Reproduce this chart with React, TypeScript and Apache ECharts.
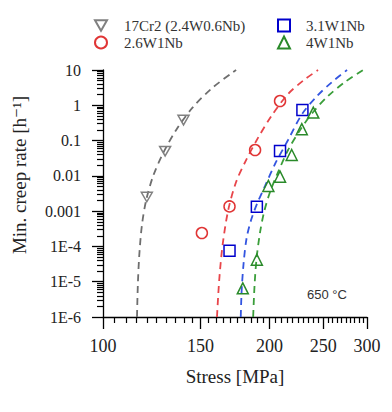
import React, { useEffect, useRef } from 'react';
import * as echarts from 'echarts';

// Grades (legend order as drawn)
const gradeNames = ['17Cr2 (2.4W0.6Nb)', '2.6W1Nb', '3.1W1Nb', '4W1Nb'];

// Axis ticks
const xTickValues = [100, 150, 200, 250, 300];
const yTickLabels = ['1E-6', '1E-5', '1E-4', '0.001', '0.01', '0.1', '1', '10'];

// Measured points: stress [MPa], min. creep rate [1/h]
const cr17Stress = [120.0, 129.5, 139.8];
const cr17Rate = [0.0025, 0.05, 0.38];
const w26Stress = [150.9, 169.3, 188.3, 208.9];
const w26Rate = [2.4e-4, 1.36e-3, 0.054, 1.32];
const w31Stress = [169.3, 189.7, 208.9, 229.3];
const w31Rate = [7.5e-5, 1.34e-3, 0.051, 0.74];
const w4Stress = [178.9, 189.7, 199.0, 208.9, 219.3, 228.7, 239.9];
const w4Rate = [6.5e-6, 4.2e-5, 5.2e-3, 9.5e-3, 0.039, 0.21, 0.62];

// Fitted (dashed) curves
const cr17FitStress = [115.2, 115.6, 116.3, 117.6, 119.7, 123.2, 128.5, 135.6, 145.0, 157.5, 174.0];
const cr17FitRate = [1e-6, 8.1e-6, 5.7e-5, 4.06e-4, 2.07e-3, 9.9e-3, 0.0446, 0.2, 0.84, 3.09, 10];
const w26FitStress = [160.7, 162.2, 164.5, 168.4, 174.0, 181.4, 190.6, 202.1, 216.0, 230.8, 244.7];
const w26FitRate = [1e-6, 1.12e-5, 1.1e-4, 1.08e-3, 6.7e-3, 0.028, 0.119, 0.531, 2.09, 5.2, 10];
const w31FitStress = [177.4, 178.1, 179.6, 181.8, 185.2, 189.8, 196.3, 204.6, 216.0, 229.0, 243.7, 259.4, 276.1];
const w31FitRate = [1e-6, 5.9e-6, 3.64e-5, 1.74e-4, 5.6e-4, 1.6e-3, 5.2e-3, 0.0217, 0.104, 0.567, 1.83, 4.57, 10];
const w4FitStress = [186.8, 187.9, 189.5, 192.3, 195.5, 200.4, 207.3, 216.0, 227.1, 239.8, 255.1, 273.8, 295.1];
const w4FitRate = [1e-6, 8.1e-6, 4.7e-5, 2.58e-4, 9.5e-4, 3.5e-3, 0.0129, 0.054, 0.2, 0.645, 1.83, 4.57, 10];

const pts = (xs: number[], ys: number[]) => xs.map((x, i) => [Math.log10(x), Math.log10(ys[i])]);

const SERIF = '"Times New Roman", "Liberation Serif", "DejaVu Serif", serif';
const SANS = 'Arial, "Liberation Sans", sans-serif';

const colors = {
  gray: '#808080', grayLine: '#6e6e6e',
  red: '#e03535', redLine: '#e8454a',
  blue: '#0000cc', blueLine: '#3355e0',
  green: '#2a8a2a', greenLine: '#3a9e3a',
};

const downTri = 'path://M0,0L10,0L5,8.66Z';

export default function App() {
  const ref = useRef<HTMLDivElement>(null);
  useEffect(() => {
    if (!ref.current) return;
    const chart = echarts.init(ref.current, undefined, { renderer: 'svg' });

    const xMinor: number[] = [];
    for (let v = 105; v < 300; v += 5) if (v % 50 !== 0) xMinor.push(Math.log10(v));
    const yMinor: number[] = [];
    for (let n = -6; n < 1; n++) for (let k = 2; k <= 9; k++) yMinor.push(Math.log10(k * Math.pow(10, n)));

    const axisLine = { show: true, onZero: false, lineStyle: { color: '#000', width: 1.3 } };
    const hiddenLine = { show: false, onZero: false };
    const xMin = 2, xMax = Math.log10(300);

    const lineSeries = (name: string, xs: number[], ys: number[], color: string) => ({
      type: 'line', name, data: pts(xs, ys), showSymbol: false, symbol: 'none', smooth: 0.3,
      lineStyle: { color, width: 1.8, type: [7, 5] }, z: 2, silent: true,
    });
    const scatterSeries = (name: string, xs: number[], ys: number[], color: string, symbol: string) => ({
      type: 'scatter', name, data: pts(xs, ys), symbol, symbolSize: 11, symbolKeepAspect: true,
      itemStyle: { color: 'rgba(255,255,255,0)', borderColor: color, borderWidth: 1.5, opacity: 1 }, z: 3,
    });

    const legendCommon = {
      orient: 'vertical', top: 13, itemWidth: 12, itemHeight: 12, itemGap: 2, selectedMode: false, symbolKeepAspect: true,
    };

    chart.setOption({
      animation: false,
      grid: { left: 103, right: 25, top: 70, bottom: 95 },
      legend: [
        {
          ...legendCommon, left: 89, data: [gradeNames[0], gradeNames[1]],
          textStyle: { fontFamily: SERIF, fontSize: 15, color: '#333', padding: [0, 0, 0, 12] },
        },
        {
          ...legendCommon, left: 272, data: [gradeNames[2], gradeNames[3]],
          textStyle: { fontFamily: SERIF, fontSize: 15, color: '#333', padding: [0, 0, 0, 11] },
        },
      ],
      xAxis: [
        {
          type: 'value', min: xMin, max: xMax, position: 'bottom',
          axisLine, splitLine: { show: false },
          axisTick: { show: true, customValues: xTickValues.map((v) => Math.log10(v)), length: 12, lineStyle: { color: '#000', width: 1.3 } },
          axisLabel: {
            customValues: xTickValues.map((v) => Math.log10(v)),
            formatter: (v: number) => String(Math.round(Math.pow(10, v))),
            fontFamily: SERIF, fontSize: 18, color: '#222', margin: 20,
          },
          name: 'Stress [MPa]', nameLocation: 'middle', nameGap: 50,
          nameTextStyle: { fontFamily: SERIF, fontSize: 19, color: '#222' },
        },
        {
          type: 'value', min: xMin, max: xMax, position: 'bottom',
          axisLine: hiddenLine, splitLine: { show: false }, axisLabel: { show: false },
          axisTick: { show: true, customValues: xMinor, length: 6, lineStyle: { color: '#000', width: 1.2 } },
        },
      ],
      yAxis: [
        {
          type: 'value', min: -6, max: 1, interval: 1, position: 'left',
          axisLine, splitLine: { show: false },
          axisTick: { show: true, length: 11, lineStyle: { color: '#000', width: 1.3 } },
          axisLabel: {
            formatter: (v: number) => yTickLabels[Math.round(v) + 6],
            fontFamily: SERIF, fontSize: 16, color: '#222', margin: 22,
          },
        },
        {
          type: 'value', min: -6, max: 1, position: 'left',
          axisLine: hiddenLine, splitLine: { show: false }, axisLabel: { show: false },
          axisTick: { show: true, customValues: yMinor, length: 6, lineStyle: { color: '#000', width: 1.2 } },
        },
      ],
      graphic: [
        {
          type: 'text', x: 19, y: 175, rotation: Math.PI / 2,
          style: { text: 'Min. creep rate [h⁻¹]', font: `19px ${SERIF}`, fill: '#222', align: 'center', verticalAlign: 'middle' },
        },
        {
          type: 'text', left: 307, top: 288,
          style: { text: '650 °C', font: `13px ${SANS}`, fill: '#333' },
        },
      ],
      series: [
        lineSeries('fit ' + gradeNames[0], cr17FitStress, cr17FitRate, colors.grayLine),
        lineSeries('fit ' + gradeNames[1], w26FitStress, w26FitRate, colors.redLine),
        lineSeries('fit ' + gradeNames[2], w31FitStress, w31FitRate, colors.blueLine),
        lineSeries('fit ' + gradeNames[3], w4FitStress, w4FitRate, colors.greenLine),
        scatterSeries(gradeNames[0], cr17Stress, cr17Rate, colors.gray, downTri),
        scatterSeries(gradeNames[1], w26Stress, w26Rate, colors.red, 'circle'),
        scatterSeries(gradeNames[2], w31Stress, w31Rate, colors.blue, 'rect'),
        scatterSeries(gradeNames[3], w4Stress, w4Rate, colors.green, 'triangle'),
      ],
    });
    return () => chart.dispose();
  }, []);
  return <div ref={ref} style={{ width: 392, height: 412, margin: -8 }} />;
}
